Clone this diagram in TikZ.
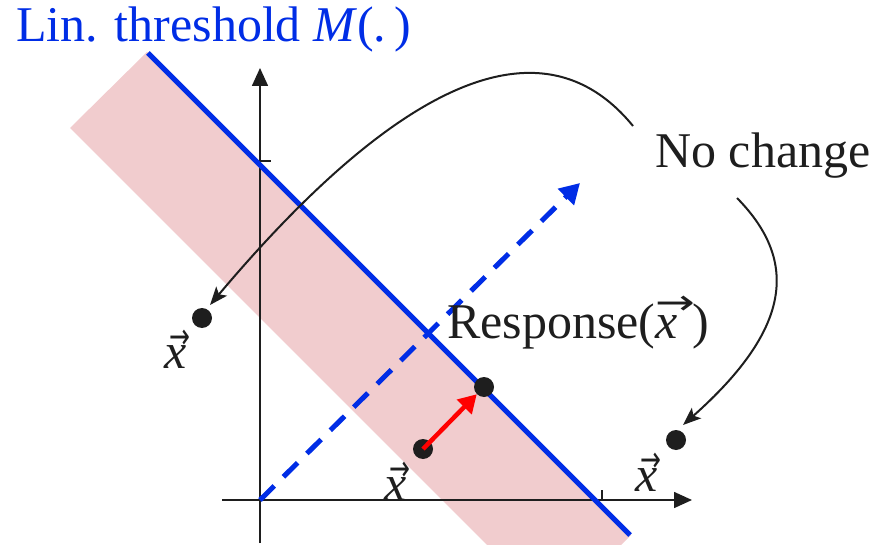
\documentclass[tikz,border=0pt]{standalone}
\usepackage{fontspec}
\setmainfont{Liberation Serif}
\newfontfamily\arrowfont{DejaVu Sans}
\usetikzlibrary{arrows.meta}
\definecolor{lblue}{RGB}{0,45,230}
\definecolor{pinkband}{RGB}{241,204,206}
\definecolor{dk}{RGB}{30,30,30}
\newcommand\myvx{\makebox[0pt][l]{\hspace{0.1em}\raisebox{0.4em}{\arrowfont\scalebox{0.5}[0.7]{→}}}\textit{x}}
\newcommand\myovx{\makebox[0pt][l]{\raisebox{0.47em}{\arrowfont\scalebox{0.95}[0.7]{→}}}\textit{x}\hspace{0.3em}}
\tikzset{
  axis/.style={line width=1.6pt, draw=dk, -{Triangle[length=18pt,width=16pt]}},
  thr/.style={line width=5pt, draw=lblue},
  dir/.style={line width=5pt, draw=lblue, dash pattern=on 20pt off 13pt, -{Triangle[length=20pt,width=22pt]}},
  resp/.style={line width=4.5pt, draw=red, -{Triangle[length=18pt,width=20pt]}},
  curvearrow/.style={line width=2pt, draw=dk, -{Stealth[length=18pt,width=14pt,inset=4pt]}},
  dot/.style={circle, fill=dk, inner sep=0pt, minimum size=20pt},
  lbl/.style={text=dk, font=\fontsize{50}{54}\selectfont},
  vlbl/.style={text=dk, font=\fontsize{50}{54}\selectfont, inner sep=0pt}
}
\begin{document}
\begin{tikzpicture}[x=1pt,y=-1pt]
\useasboundingbox (0,0) rectangle (883,545);
% band
\begin{scope}
\clip (0,0) rectangle (883,545);
\fill[pinkband] (147,52) -- (70,128) -- (554,612) -- (631,535) -- cycle;
\end{scope}
% axes
\coordinate (xa0) at (222,500);
\coordinate (xa1) at (692,500);
\coordinate (ya0) at (260,543);
\coordinate (ya1) at (260,68);
\draw[axis] (xa0) -- (xa1);
\draw[axis] (ya0) -- (ya1);
\coordinate (yt) at (260,161);
\coordinate (xt) at (602,500);
\draw[line width=1.6pt, draw=dk] (yt) -- ++(11,0);
\draw[line width=1.6pt, draw=dk] (xt) -- ++(0,-10);
% threshold line
\coordinate (t0) at (148,53);
\coordinate (t1) at (630,535);
\draw[thr] (t0) -- (t1);
% dashed direction
\coordinate (o) at (260,500);
\coordinate (d1) at (580,183);
\draw[dir] (o) -- (d1);
% dots
\node[dot] (pl) at (202,318) {};
\node[dot] (pm) at (423,449) {};
\node[dot] (pr) at (484,387) {};
\node[dot] (pf) at (676,440) {};
\draw[resp] (pm.center) -- (pr.south west);
% labels
\node[anchor=base west, text=lblue, font=\fontsize{50}{54}\selectfont, inner sep=0pt] (title) at (16,42) {Lin. threshold \textit{M}(.\,)};
\node[lbl, anchor=base west, inner sep=0pt] (nc) at (655,168) {No change};
\node[lbl, anchor=base west, inner sep=0pt] (rs) at (447,338) {Response(\myovx)};
\node[vlbl, anchor=base] (xl) at (176,368) {\myvx};
\node[vlbl, anchor=base] (xm) at (396,500) {\myvx};
\node[vlbl, anchor=base] (xr) at (647,491) {\myvx};
% curved arrows
\coordinate (c1s) at (633,126);
\coordinate (c1e) at (210,305);
\draw[curvearrow] (c1s) .. controls (530,0) and (370,115) .. (c1e);
\coordinate (c2s) at (737,198);
\coordinate (c2e) at (683,425);
\draw[curvearrow] (c2s) .. controls (800,262) and (790,330) .. (c2e);
\end{tikzpicture}
\end{document}
